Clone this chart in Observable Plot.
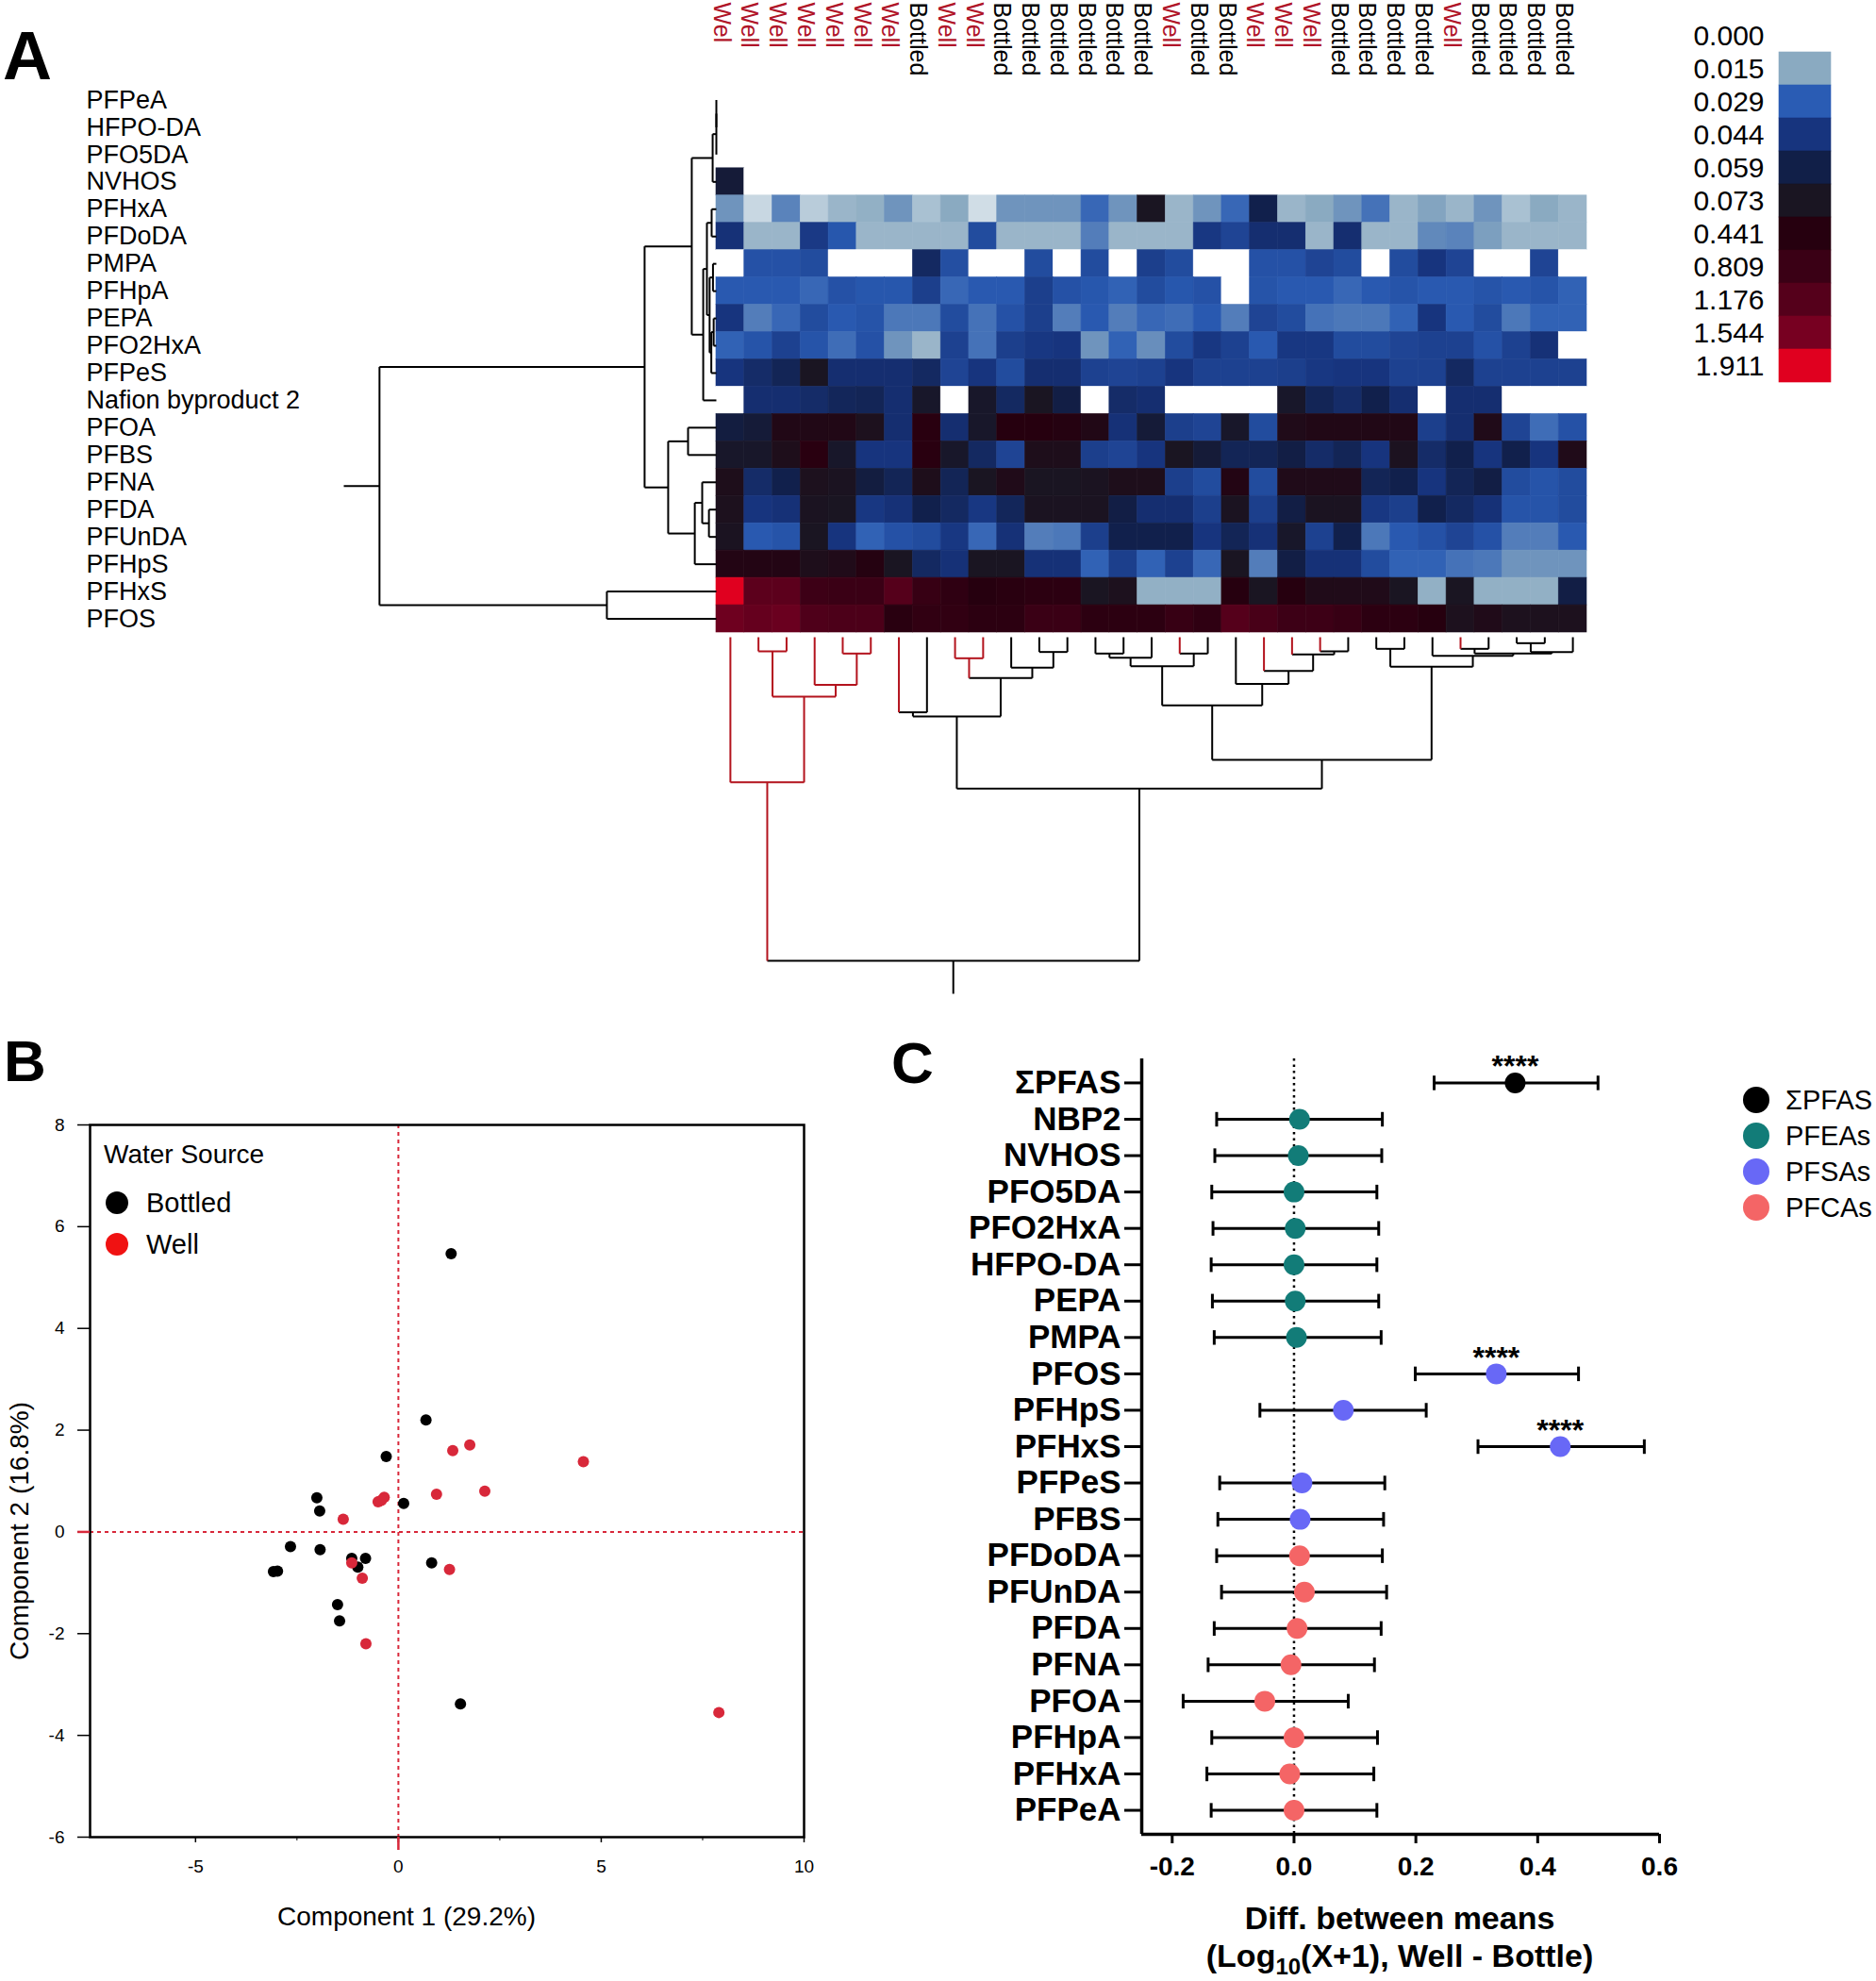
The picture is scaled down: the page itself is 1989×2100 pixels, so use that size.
<!DOCTYPE html>
<html><head><meta charset="utf-8">
<script src="https://cdn.jsdelivr.net/npm/d3@7"></script>
<script src="https://cdn.jsdelivr.net/npm/@observablehq/plot@0.6"></script>
<style>
html,body{margin:0;padding:0;background:#fff;}
#root{position:relative;width:1989px;height:2100px;overflow:hidden;background:#fff;font-family:"Liberation Sans",Arial,Helvetica,sans-serif;}
</style></head>
<body><div id="root"></div>
<script>
// ---------------- DATA: Panel A heatmap ----------------
const rowNames = ["PFPeA","HFPO-DA","PFO5DA","NVHOS","PFHxA","PFDoDA","PMPA","PFHpA","PEPA","PFO2HxA","PFPeS","Nafion byproduct 2","PFOA","PFBS","PFNA","PFDA","PFUnDA","PFHpS","PFHxS","PFOS"];
const colLabels = ["Wel","Well","Well","Well","Well","Well","Well","Bottled","Well","Well","Bottled","Bottled","Bottled","Bottled","Bottled","Bottled","Well","Bottled","Bottled","Well","Well","Well","Bottled","Bottled","Bottled","Bottled","Well","Bottled","Bottled","Bottled","Bottled"];

const v_PFPeA   = [0,0,0,0,0,0,0,0,0,0,0,0,0,0,0,0,0,0,0,0,0,0,0,0,0,0,0,0,0,0,0];
const v_HFPODA  = [0,0,0,0,0,0,0,0,0,0,0,0,0,0,0,0,0,0,0,0,0,0,0,0,0,0,0,0,0,0,0];
const v_PFO5DA  = [0,0,0,0,0,0,0,0,0,0,0,0,0,0,0,0,0,0,0,0,0,0,0,0,0,0,0,0,0,0,0];
const v_NVHOS   = [0.065,0,0,0,0,0,0,0,0,0,0,0,0,0,0,0,0,0,0,0,0,0,0,0,0,0,0,0,0,0,0];
const v_PFHxA   = [0.019,0.007,0.022,0.009,0.013,0.014,0.019,0.011,0.015,0.006,0.019,0.019,0.019,0.027,0.019,0.073,0.013,0.019,0.027,0.058,0.013,0.015,0.019,0.025,0.013,0.016,0.013,0.019,0.011,0.015,0.013];
const v_PFDoDA  = [0.046,0.013,0.013,0.042,0.031,0.013,0.013,0.013,0.013,0.035,0.013,0.013,0.013,0.023,0.013,0.013,0.013,0.043,0.038,0.048,0.048,0.013,0.048,0.013,0.013,0.021,0.022,0.017,0.013,0.013,0.013];
const v_PMPA    = [0,0.033,0.033,0.035,0,0,0,0.052,0.034,0,0,0.035,0,0.035,0,0.040,0.035,0,0,0.033,0.033,0.038,0.035,0,0.035,0.044,0.038,0,0,0.038,0];
const v_PFHpA   = [0.030,0.030,0.030,0.027,0.033,0.031,0.031,0.040,0.027,0.030,0.030,0.040,0.033,0.031,0.028,0.035,0.031,0.033,0,0.032,0.030,0.030,0.027,0.030,0.032,0.030,0.030,0.032,0.030,0.032,0.028];
const v_PEPA    = [0.044,0.023,0.027,0.035,0.030,0.032,0.024,0.024,0.035,0.025,0.033,0.040,0.023,0.030,0.023,0.027,0.026,0.030,0.023,0.038,0.035,0.025,0.024,0.024,0.028,0.044,0.030,0.035,0.024,0.028,0.028];
const v_PFO2HxA = [0.028,0.032,0.039,0.032,0.026,0.033,0.019,0.013,0.039,0.025,0.040,0.043,0.044,0.019,0.028,0.020,0.035,0.043,0.039,0.030,0.043,0.043,0.035,0.035,0.038,0.039,0.039,0.033,0.039,0.046,0];
const v_PFPeS   = [0.044,0.050,0.055,0.073,0.048,0.048,0.048,0.052,0.038,0.044,0.035,0.048,0.048,0.039,0.038,0.039,0.044,0.039,0.039,0.039,0.040,0.043,0.044,0.044,0.039,0.039,0.052,0.039,0.039,0.039,0.039];
const v_Nafion  = [0,0.048,0.048,0.050,0.054,0.055,0.048,0.070,0,0.070,0.052,0.073,0.060,0,0.050,0.048,0,0,0,0,0.070,0.055,0.050,0.058,0.048,0,0.048,0.048,0,0,0];
const v_PFOA    = [0.062,0.065,0.3,0.3,0.3,0.15,0.048,0.5,0.048,0.07,0.44,0.44,0.4,0.3,0.046,0.065,0.040,0.038,0.07,0.035,0.25,0.3,0.3,0.3,0.3,0.040,0.048,0.25,0.038,0.026,0.033];
const v_PFBS    = [0.07,0.07,0.2,0.5,0.07,0.044,0.044,0.5,0.07,0.052,0.038,0.2,0.2,0.040,0.038,0.044,0.073,0.065,0.055,0.055,0.060,0.050,0.055,0.044,0.12,0.050,0.058,0.044,0.058,0.044,0.25];
const v_PFNA    = [0.2,0.050,0.058,0.15,0.1,0.062,0.055,0.2,0.055,0.075,0.25,0.073,0.073,0.1,0.2,0.2,0.040,0.035,0.35,0.035,0.25,0.25,0.25,0.055,0.058,0.044,0.055,0.060,0.035,0.032,0.035];
const v_PFDA    = [0.15,0.044,0.046,0.1,0.08,0.043,0.046,0.058,0.052,0.043,0.054,0.1,0.1,0.1,0.060,0.048,0.048,0.040,0.1,0.040,0.060,0.1,0.1,0.043,0.040,0.058,0.052,0.046,0.032,0.032,0.035];
const v_PFUnDA  = [0.1,0.030,0.032,0.08,0.044,0.028,0.033,0.035,0.043,0.027,0.046,0.023,0.024,0.040,0.058,0.058,0.058,0.044,0.055,0.046,0.07,0.039,0.058,0.024,0.030,0.033,0.038,0.033,0.023,0.023,0.030];
const v_PFHpS   = [0.35,0.35,0.35,0.2,0.25,0.4,0.08,0.052,0.046,0.08,0.08,0.046,0.046,0.028,0.040,0.028,0.039,0.027,0.075,0.023,0.060,0.046,0.046,0.035,0.028,0.028,0.025,0.024,0.019,0.019,0.019];
const v_PFHxS   = [1.91,1.25,1.25,0.85,0.8,0.8,1.18,0.75,0.6,0.45,0.5,0.55,0.55,0.075,0.15,0.014,0.014,0.014,0.45,0.075,0.45,0.25,0.25,0.25,0.075,0.014,0.073,0.014,0.014,0.014,0.060];
const v_PFOS    = [1.45,1.35,1.4,1.1,1.05,1.05,0.5,0.65,0.65,0.55,0.55,0.8,0.8,0.55,0.55,0.55,0.75,0.6,1.18,1.0,0.85,0.85,0.75,0.55,0.55,0.45,0.15,0.25,0.15,0.15,0.15];

// colour key
const legendStops  = [0, 0.015, 0.029, 0.044, 0.059, 0.073, 0.441, 0.809, 1.176, 1.544, 1.911];
const legendLabels = ["0.000","0.015","0.029","0.044","0.059","0.073","0.441","0.809","1.176","1.544","1.911"];
const legendColors = ["#ffffff","#8aaac1","#2a5cb4","#17347e","#111f48","#1a1522","#26000f","#3a0015","#55001b","#770021","#e0001f"];

// dendrograms: node = [height, left, right], leaf = index
const rowTree = [1.0,
  [0.213,
    [0.073,
      [0.011, [0, [0, 0, 1], 2], 3],
      [0.039, [0.028, [0.014, 4, 5], [0.02, [0.01, 6, 7], [0.015, [0.008, 8, 9], 10]]], 11]],
    [0.143, [0.084, 12, 13], [0.064, [0.042, 14, [0.022, 15, 16]], 17]]],
  [0.325, 18, 19]];
const rowRootStem = 1.106;
const colTree = [10.30,
  [4.62, 0, [1.89, [0.45, 1, 2], [1.52, 3, [0.52, 4, 5]]]],
  [4.82,
    [2.52, [2.39, 6, 7], [1.30, [0.67, 8, 9], [0.97, 10, [0.47, 11, 12]]]],
    [3.90,
      [2.17, [0.92, [0.65, [0.52, 13, 14], 15], [0.52, 16, 17]], [1.49, 18, [1.07, 19, [0.55, 20, [0.45, 21, 22]]]]],
      [0.94, [0.37, 23, 24], [0.59, 25, [0.52, [0.37, 26, 27], [0.47, [0.19, 28, 29], 30]]]]]]];
const colRootStem = 11.35;

// ---------------- DATA: Panel B PCA ----------------
const sources = ["Bottled","Well"];
const sourceColors = ["#000000","#f01212"];
const bottledX = [1.30, 0.68, -0.30, 0.13, -2.01, -1.94, -2.66, -1.93, -3.08, -2.98, -1.15, -0.81, -1.00, 0.82, -1.50, -1.45, 1.53];
const bottledY = [5.47, 2.20, 1.48, 0.56, 0.67, 0.41, -0.29, -0.35, -0.78, -0.77, -0.52, -0.52, -0.69, -0.61, -1.43, -1.75, -3.38];
const wellX = [4.56, 1.34, 1.76, 0.94, 2.13, -0.35, -0.50, -0.42, -1.36, -1.15, -0.89, 1.26, -0.80, 7.90];
const wellY = [1.38, 1.60, 1.71, 0.74, 0.80, 0.68, 0.59, 0.62, 0.25, -0.61, -0.91, -0.74, -2.20, -3.55];
const pcaXTicks = [-5, 0, 5, 10];
const pcaYTicks = [-6, -4, -2, 0, 2, 4, 6, 8];

// ---------------- DATA: Panel C forest ----------------
const cNames = ["ΣPFAS","NBP2","NVHOS","PFO5DA","PFO2HxA","HFPO-DA","PEPA","PMPA","PFOS","PFHpS","PFHxS","PFPeS","PFBS","PFDoDA","PFUnDA","PFDA","PFNA","PFOA","PFHpA","PFHxA","PFPeA"];
const cGroup = ["ΣPFAS","PFEAs","PFEAs","PFEAs","PFEAs","PFEAs","PFEAs","PFEAs","PFSAs","PFSAs","PFSAs","PFSAs","PFSAs","PFCAs","PFCAs","PFCAs","PFCAs","PFCAs","PFCAs","PFCAs","PFCAs"];
const cMean = [0.363,0.009,0.007,0.000,0.002,0.000,0.002,0.004,0.332,0.081,0.437,0.013,0.010,0.009,0.017,0.005,-0.005,-0.048,0.000,-0.007,0.000];
const cLow  = [0.230,-0.127,-0.130,-0.135,-0.133,-0.136,-0.134,-0.131,0.199,-0.056,0.302,-0.122,-0.125,-0.127,-0.119,-0.131,-0.141,-0.182,-0.135,-0.143,-0.136];
const cHigh = [0.499,0.145,0.144,0.136,0.139,0.136,0.139,0.143,0.467,0.217,0.575,0.149,0.147,0.145,0.152,0.143,0.132,0.089,0.137,0.131,0.136];
const cSig  = ["****","","","","","","","","****","","****","","","","","","","","","",""];
const groupNames = ["ΣPFAS","PFEAs","PFSAs","PFCAs"];
const groupColors = ["#000000","#127c78","#6868f6","#f46566"];
const cXTicks = [-0.2, 0, 0.2, 0.4, 0.6];

// ---------------- BUILD ----------------
const FONT = "'Liberation Sans', Arial, Helvetica, sans-serif";
const RED_LBL = "#b01428";
const DENDRO_RED = "#b3131d";
const PCA_RED = "#d8283a";
const root = document.getElementById("root");
function place(el, left, top) {
  el.style.position = "absolute"; el.style.left = left + "px"; el.style.top = top + "px";
  root.appendChild(el);
}
const baseStyle = {fontFamily: FONT, background: "transparent", overflow: "visible", color: "black"};
const colorOpts = {type: "linear", domain: legendStops, range: legendColors, interpolate: "rgb", clamp: true};

const rowArrays = [v_PFPeA, v_HFPODA, v_PFO5DA, v_NVHOS, v_PFHxA, v_PFDoDA, v_PMPA, v_PFHpA, v_PEPA, v_PFO2HxA, v_PFPeS, v_Nafion, v_PFOA, v_PFBS, v_PFNA, v_PFDA, v_PFUnDA, v_PFHpS, v_PFHxS, v_PFOS];
const cells = [];
rowArrays.forEach((arr, r) => arr.forEach((v, c) => cells.push({row: rowNames[r], col: c, v})));
const colIdx = d3.range(colLabels.length);
const isWell = colLabels.map(l => l.startsWith("Wel"));

// Heatmap
const heat = Plot.plot({
  width: 1989, height: 680, marginLeft: 759, marginRight: 307, marginTop: 91, marginBottom: 10,
  style: baseStyle,
  x: {type: "band", domain: colIdx, padding: 0, round: false, axis: null},
  y: {type: "band", domain: rowNames, padding: 0, round: false, axis: null},
  color: colorOpts,
  marks: [
    Plot.cell(cells, {x: "col", y: "row", fill: "v", stroke: "v", strokeWidth: 0.6}),
    Plot.text(rowNames, {y: d => d, text: d => d, frameAnchor: "left", dx: -668, textAnchor: "start", fontSize: 27}),
    Plot.text(colIdx.filter(i => isWell[i]), {x: d => d, text: d => colLabels[d], frameAnchor: "top", dy: -89, rotate: 90, textAnchor: "start", fill: RED_LBL, fontSize: 25}),
    Plot.text(colIdx.filter(i => !isWell[i]), {x: d => d, text: d => colLabels[d], frameAnchor: "top", dy: -89, rotate: 90, textAnchor: "start", fill: "black", fontSize: 25})
  ]
});
place(heat, 0, 0);

// dendrogram segments
function dendro(tree, leafWell, stem) {
  const segs = [];
  function walk(n) {
    if (typeof n === "number") return {pos: n, h: 0, well: leafWell ? leafWell[n] : false};
    const [h, a, b] = n;
    const A = walk(a), B = walk(b);
    const well = A.well && B.well;
    segs.push({p1: A.pos, h1: h, p2: B.pos, h2: h, red: well});
    segs.push({p1: A.pos, h1: A.h, p2: A.pos, h2: h, red: A.well});
    segs.push({p1: B.pos, h1: B.h, p2: B.pos, h2: h, red: B.well});
    return {pos: (A.pos + B.pos) / 2, h, well};
  }
  const r = walk(tree);
  segs.push({p1: r.pos, h1: r.h, p2: r.pos, h2: stem, red: false});
  return segs;
}
const rowSegs = dendro(rowTree, null, rowRootStem);
const rowDen = Plot.plot({
  width: 759, height: 680, marginLeft: 364, marginRight: 0, marginTop: 91, marginBottom: 10,
  style: baseStyle,
  x: {domain: [rowRootStem, 0], axis: null},
  y: {domain: [-0.5, rowNames.length - 0.5], reverse: true, axis: null},
  marks: [Plot.link(rowSegs, {x1: "h1", y1: "p1", x2: "h2", y2: "p2", stroke: "black", strokeWidth: 2})]
});
place(rowDen, 0, 0);

const colSegs = dendro(colTree, isWell, colRootStem);
const colDen = Plot.plot({
  width: 1989, height: 390, marginLeft: 759, marginRight: 307, marginTop: 5, marginBottom: 7,
  style: baseStyle,
  x: {domain: [-0.5, colLabels.length - 0.5], axis: null},
  y: {domain: [0, colRootStem], reverse: true, axis: null},
  marks: [
    Plot.link(colSegs.filter(d => !d.red), {x1: "p1", y1: "h1", x2: "p2", y2: "h2", stroke: "black", strokeWidth: 2}),
    Plot.link(colSegs.filter(d => d.red), {x1: "p1", y1: "h1", x2: "p2", y2: "h2", stroke: DENDRO_RED, strokeWidth: 2})
  ]
});
place(colDen, 0, 670);

// colour key
const key = Plot.plot({
  width: 209, height: 430, marginLeft: 106, marginRight: 48, marginTop: 20, marginBottom: 25,
  style: baseStyle,
  y: {type: "band", domain: legendLabels, padding: 0, round: false, axis: null},
  color: colorOpts,
  marks: [
    Plot.cell(legendStops, {y: (d, i) => legendLabels[i], fill: d => d, stroke: d => d, strokeWidth: 0.6}),
    Plot.text(legendLabels, {y: d => d, text: d => d, frameAnchor: "left", dx: -16, textAnchor: "end", fontSize: 30})
  ]
});
place(key, 1780, 0);

// Panel B scatter
const bottled = bottledX.map((x, i) => ({x, y: bottledY[i]}));
const well = wellX.map((x, i) => ({x, y: wellY[i]}));
const pca = Plot.plot({
  width: 880, height: 1010, marginLeft: 95, marginRight: 28, marginTop: 102, marginBottom: 153,
  style: baseStyle,
  x: {domain: [-7.6, 10]},
  y: {domain: [-6, 8]},
  marks: [
    Plot.ruleX([0], {stroke: PCA_RED, strokeWidth: 2, strokeDasharray: "4,4"}),
    Plot.ruleY([0], {stroke: PCA_RED, strokeWidth: 2, strokeDasharray: "4,4"}),
    Plot.dot(bottled, {x: "x", y: "y", r: 6, fill: "black"}),
    Plot.dot(well, {x: "x", y: "y", r: 6, fill: PCA_RED}),
    Plot.frame({strokeWidth: 2.5}),
    Plot.axisX({ticks: pcaXTicks, tickFormat: d => String(d), tickSize: 6, tickPadding: 18, fontSize: 19, strokeWidth: 1.5, label: null}),
    Plot.axisX({ticks: [-2.5, 2.5, 7.5], tickFormat: () => "", tickSize: 4, label: null}),
    Plot.axisY({ticks: pcaYTicks, tickFormat: d => String(d), tickSize: 13, tickPadding: 14, fontSize: 19, strokeWidth: 1.5, label: null}),
    Plot.ruleY([0], {x1: -7.9, x2: -7.6, stroke: PCA_RED, strokeWidth: 2.5}),
    Plot.ruleX([0], {y1: -6, y2: -6.26, stroke: PCA_RED, strokeWidth: 2.5})
  ]
});
place(pca, 0, 1090);

// Panel C forest
const forestRows = cNames.map((n, i) => ({i, name: n, group: cGroup[i], mean: cMean[i], lo: cLow[i], hi: cHigh[i], sig: cSig[i]}));
const forest = Plot.plot({
  width: 1059, height: 1010, marginLeft: 280, marginRight: 230, marginTop: 32, marginBottom: 156,
  style: baseStyle,
  x: {domain: [-0.25, 0.6]},
  y: {domain: [-0.66, cNames.length - 1 + 0.66], reverse: true},
  color: {domain: groupNames, range: groupColors},
  marks: [
    Plot.ruleX([0], {stroke: "black", strokeWidth: 2.5, strokeDasharray: "2.5,4"}),
    Plot.link(forestRows, {x1: "lo", x2: "hi", y1: "i", y2: "i", stroke: "black", strokeWidth: 3}),
    Plot.link(forestRows, {x1: "lo", x2: "lo", y1: d => d.i - 0.2, y2: d => d.i + 0.2, stroke: "black", strokeWidth: 3}),
    Plot.link(forestRows, {x1: "hi", x2: "hi", y1: d => d.i - 0.2, y2: d => d.i + 0.2, stroke: "black", strokeWidth: 3}),
    Plot.dot(forestRows, {x: "mean", y: "i", r: 11, fill: "group"}),
    Plot.text(forestRows.filter(d => d.sig), {x: "mean", y: "i", text: "sig", dy: -17, fontSize: 32, fontWeight: "bold"}),
    Plot.ruleX([-0.25], {stroke: "black", strokeWidth: 3.5}),
    Plot.ruleY([cNames.length - 1 + 0.66], {stroke: "black", strokeWidth: 3.5}),
    Plot.axisY({ticks: d3.range(cNames.length), tickFormat: i => cNames[i], tickSize: 18, tickPadding: 4, fontSize: 35, fontWeight: "bold", strokeWidth: 3, label: null}),
    Plot.axisX({ticks: cXTicks, tickFormat: d => d.toFixed(1), tickSize: 10, tickPadding: 14, fontSize: 28, fontWeight: "bold", strokeWidth: 3, label: null})
  ]
});
place(forest, 930, 1090);

// overlay texts and legends
const ov = d3.create("svg").attr("width", 1989).attr("height", 2100)
  .style("position", "absolute").style("left", "0px").style("top", "0px")
  .style("font-family", FONT).style("pointer-events", "none");
function T(txt, x, y, o = {}) {
  const t = ov.append("text").attr("x", x).attr("y", y)
    .attr("font-size", o.size || 28).attr("font-weight", o.weight || "normal")
    .attr("text-anchor", o.anchor || "start").attr("fill", o.fill || "#000").text(txt);
  if (o.rotate) t.attr("transform", `rotate(${o.rotate},${x},${y})`);
  return t;
}
T("A", 3, 84, {size: 72, weight: "bold"});
T("B", 4, 1146, {size: 62, weight: "bold"});
T("C", 945, 1148, {size: 62, weight: "bold"});

T("Water Source", 110, 1233, {size: 28});
sources.forEach((s, i) => {
  ov.append("circle").attr("cx", 124).attr("cy", 1275 + i * 44).attr("r", 12).attr("fill", sourceColors[i]);
  T(s, 155, 1285 + i * 44, {size: 29});
});
T("Component 1 (29.2%)", 431, 2041, {size: 28, anchor: "middle"});
T("Component 2 (16.8%)", 30, 1623, {size: 28, anchor: "middle", rotate: -90});

T("Diff. between means", 1484, 2045, {size: 34, weight: "bold", anchor: "middle"});
const l2 = ov.append("text").attr("x", 1484).attr("y", 2085).attr("font-size", 34).attr("font-weight", "bold").attr("text-anchor", "middle");
l2.append("tspan").text("(Log");
l2.append("tspan").attr("font-size", 24).attr("dy", 8).text("10");
l2.append("tspan").attr("dy", -8).text("(X+1), Well - Bottle)");

groupNames.forEach((g, i) => {
  ov.append("circle").attr("cx", 1862).attr("cy", 1166 + i * 38).attr("r", 14).attr("fill", groupColors[i]);
  T(g, 1893, 1176 + i * 38, {size: 29});
});
root.appendChild(ov.node());
</script>
</body></html>
